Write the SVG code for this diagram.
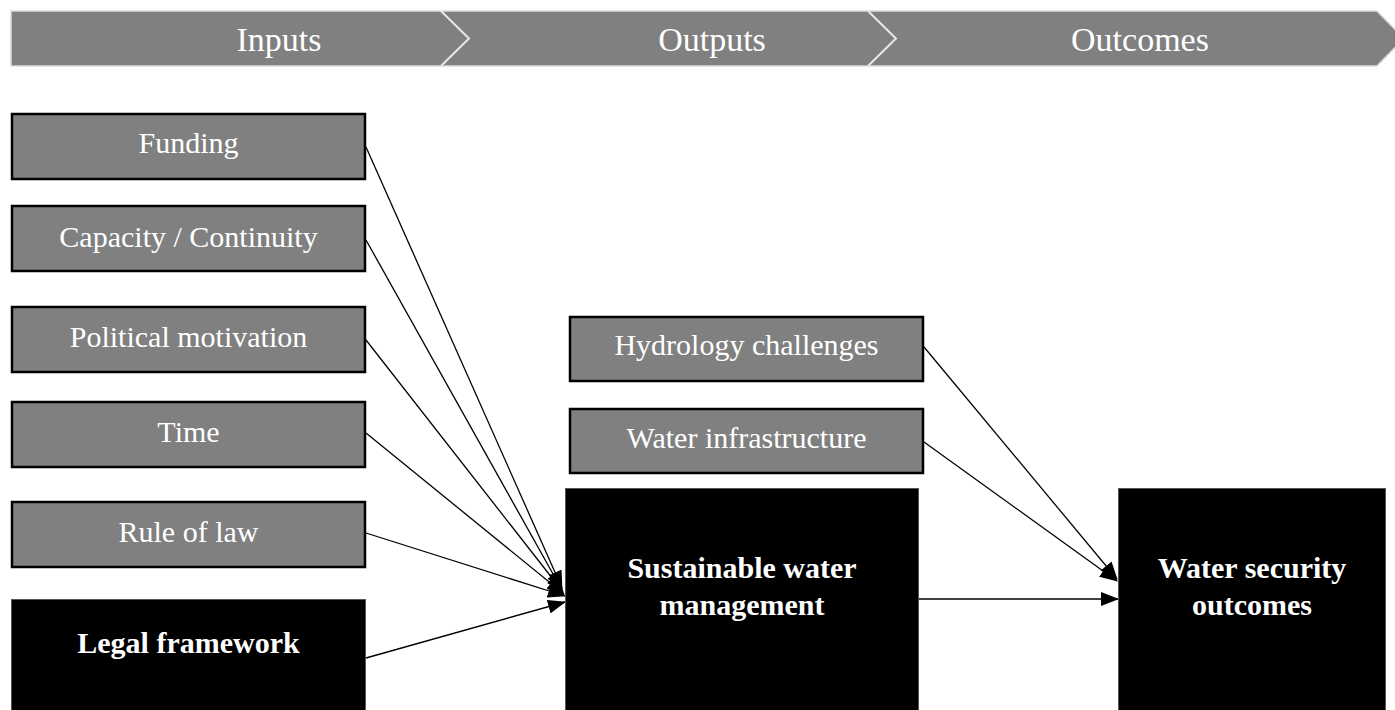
<svg xmlns="http://www.w3.org/2000/svg" width="1395" height="710" viewBox="0 0 1395 710">
<style>
.banner{fill:#808080;stroke:#dcdcdc;stroke-width:1.5}
.sep{fill:none;stroke:#e8e8e8;stroke-width:2}
.bt{font-family:"Liberation Serif","Times New Roman",serif;font-size:34px;fill:#ffffff;text-anchor:middle}
.gbox{fill:#808080;stroke:#000;stroke-width:2.5}
.kbox{fill:#000;stroke:#555;stroke-width:1}
.t{font-family:"Liberation Serif","Times New Roman",serif;font-size:30px;fill:#ffffff;text-anchor:middle}
.tb{font-family:"Liberation Serif","Times New Roman",serif;font-size:30px;font-weight:bold;fill:#ffffff;text-anchor:middle}
.c{stroke:#000;stroke-width:1.3;fill:none;marker-end:url(#ah)}
</style>
<defs>
<marker id="ah" markerWidth="18" markerHeight="14" refX="17" refY="7" orient="auto" markerUnits="userSpaceOnUse">
<path d="M0,0 L18,7 L0,14 Z" fill="#000"/>
</marker>
</defs>
<rect width="1395" height="710" fill="#fff"/>
<g id="banner">
<polygon class="banner" points="11,11 1377,11 1404,38.5 1377,66 11,66"/>
<polyline class="sep" points="441,11 469,38.5 441,66"/>
<polyline class="sep" points="868,11 896,38.5 868,66"/>
<text class="bt" x="279" y="51">Inputs</text>
<text class="bt" x="712" y="51">Outputs</text>
<text class="bt" x="1140" y="51">Outcomes</text>
</g>
<g id="connectors">
<line class="c" x1="366" y1="147" x2="562" y2="588"/>
<line class="c" x1="366" y1="240" x2="562" y2="590"/>
<line class="c" x1="366" y1="340" x2="563" y2="592"/>
<line class="c" x1="366" y1="433" x2="564" y2="594"/>
<line class="c" x1="366" y1="533" x2="565" y2="596"/>
<line class="c" x1="366" y1="658" x2="565" y2="602"/>
<line class="c" x1="924" y1="347" x2="1117" y2="579"/>
<line class="c" x1="924" y1="442" x2="1117" y2="581"/>
<line class="c" x1="919" y1="599" x2="1118" y2="599"/>
</g>
<g id="funding"><rect class="gbox" x="12" y="114" width="353" height="65"/><text class="t" x="188.5" y="153">Funding</text></g>
<g id="capacity"><rect class="gbox" x="12" y="206" width="353" height="65"/><text class="t" x="188.5" y="247">Capacity / Continuity</text></g>
<g id="political"><rect class="gbox" x="12" y="307" width="353" height="65"/><text class="t" x="188.5" y="347">Political motivation</text></g>
<g id="time"><rect class="gbox" x="12" y="402" width="353" height="65"/><text class="t" x="188.5" y="442">Time</text></g>
<g id="rule"><rect class="gbox" x="12" y="502" width="353" height="65"/><text class="t" x="188.5" y="542">Rule of law</text></g>
<g id="legal"><rect class="kbox" x="11.5" y="599.5" width="354" height="115"/><text class="tb" x="188.5" y="653">Legal framework</text></g>
<g id="hydrology"><rect class="gbox" x="570" y="317" width="353" height="64"/><text class="t" x="746.5" y="355">Hydrology challenges</text></g>
<g id="infra"><rect class="gbox" x="570" y="409" width="353" height="64"/><text class="t" x="746.5" y="448">Water infrastructure</text></g>
<g id="swm"><rect class="kbox" x="565.5" y="488.5" width="353" height="225"/><text class="tb" x="742" y="578">Sustainable water</text><text class="tb" x="742" y="615">management</text></g>
<g id="wso"><rect class="kbox" x="1118.5" y="488.5" width="267" height="225"/><text class="tb" x="1252" y="578">Water security</text><text class="tb" x="1252" y="615">outcomes</text></g>
</svg>
